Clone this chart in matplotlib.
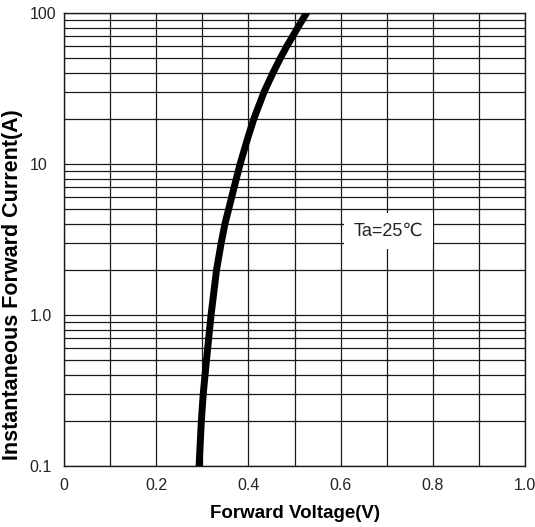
import numpy as np
import matplotlib
matplotlib.use("Agg")
import matplotlib.pyplot as plt
from matplotlib.ticker import LogLocator, FixedLocator, NullFormatter

plt.rcParams['font.family'] = ['Liberation Sans', 'DejaVu Sans']

# curve
current = [0.1, 0.2, 0.3, 0.5, 1.0, 2.0, 3.0, 4.0, 5.0, 7.0, 10.0,
           15.0, 20.0, 30.0, 40.0, 50.0, 60.0, 70.0, 80.0, 90.0, 100.0]
voltage = [0.293, 0.298, 0.302, 0.309, 0.319, 0.331, 0.341, 0.349, 0.357, 0.369, 0.382,
           0.399, 0.412, 0.434, 0.453, 0.469, 0.483, 0.496, 0.507, 0.517, 0.526]

x_ticks = [0, 0.2, 0.4, 0.6, 0.8, 1.0]
x_labels = ["0", "0.2", "0.4", "0.6", "0.8", "1.0"]
y_ticks = [0.1, 1.0, 10, 100]
y_labels = ["0.1", "1.0", "10", "100"]

fig = plt.figure(figsize=(5.35, 5.27), dpi=100)
ax = fig.add_axes([64 / 535, 1 - 466 / 527, 461 / 535, 453 / 527])

ax.set_yscale('log')
ax.set_xlim(0, 1.0)
ax.set_ylim(0.1, 100)

ax.plot(voltage, current, color='black', lw=5, solid_capstyle='round',
        solid_joinstyle='round', zorder=3)

# grid: every 0.1 V, and each log minor step
ax.xaxis.set_major_locator(FixedLocator(np.arange(0, 1.01, 0.1)))
ax.yaxis.set_major_locator(FixedLocator(y_ticks))
ax.yaxis.set_minor_locator(LogLocator(base=10, subs=np.arange(2, 10)))
ax.yaxis.set_minor_formatter(NullFormatter())
ax.grid(True, which='both', axis='y', color='#1a1a1a', lw=0.9)
ax.grid(True, which='major', axis='x', color='#1a1a1a', lw=0.9)
ax.set_axisbelow(True)

ax.set_xticks(np.arange(0, 1.01, 0.1))
ax.set_xticklabels([x_labels[i // 2] if i % 2 == 0 else "" for i in range(11)])
ax.set_yticks(y_ticks)
ax.set_yticklabels(y_labels)

ax.tick_params(which='both', length=0)
ax.tick_params(axis='x', labelsize=11.5, pad=9, labelcolor='#222222')
ax.tick_params(axis='y', labelsize=11.5, pad=25, labelcolor='#222222')
for lab in ax.get_yticklabels():
    lab.set_horizontalalignment('left')

for sp in ax.spines.values():
    sp.set_color('#1a1a1a')
    sp.set_linewidth(1.0)

ax.set_xlabel("Forward Voltage(V)", fontsize=13.5, fontweight='bold', labelpad=8)
ax.set_ylabel("Instantaneous Forward Current(A)", fontsize=15.5, fontweight='bold')
ax.yaxis.set_label_coords(-0.089, 0.40)

ax.text(0.703, 3.6, "Ta=25\u2103", fontsize=13, ha='center', va='center',
        color='#222222', zorder=4,
        bbox=dict(facecolor='white', edgecolor='none', pad=7))

fig.savefig("out.png", dpi=100)
